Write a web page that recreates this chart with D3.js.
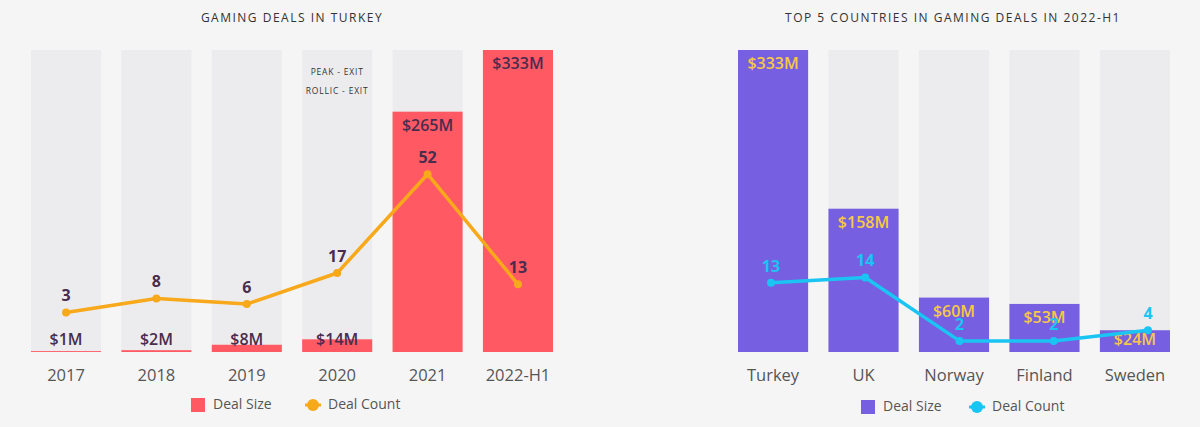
<!DOCTYPE html>
<html>
<head>
<meta charset="utf-8">
<script src="https://cdn.jsdelivr.net/npm/d3@7"></script>
<style>
  html, body { margin: 0; padding: 0; background: #f5f5f5; }
  svg { display: block; font-family: "Open Sans", "Noto Sans", sans-serif; }
</style>
</head>
<body>
<svg id="chart" width="1200" height="427"></svg>
<script>
// left panel: Turkey by year
const years = ['2017', '2018', '2019', '2020', '2021', '2022-H1'];
const turkeySize = [1, 2, 8, 14, 265, 333];   // $M
const turkeyCount = [3, 8, 6, 17, 52, 13];
const turkeyNotes = ['PEAK - EXIT', 'ROLLIC - EXIT']; // sits on 2020

// right panel: top 5 countries 2022-H1
const countries = ['Turkey', 'UK', 'Norway', 'Finland', 'Sweden'];
const countrySize = [333, 158, 60, 53, 24];
const countryCount = [13, 14, 2, 2, 4];

const svg = d3.select('#chart');
const bgBar = '#ececee';
const yBase = 352, yTop = 50;

function panel(o) {
	const g = svg.append('g');
	const x = d3.scaleBand().domain(o.cats).range(o.xr).paddingInner(0.225).paddingOuter(0);
	const y = d3.scaleLinear().domain([0, 333]).range([yBase, yTop]);
	const yc = d3.scaleLinear().domain(o.cDomain).range([o.cBase, yTop]);
	const xl = o.lineRange
		? d3.scalePoint().domain(o.cats).range(o.lineRange)
		: (d => x(d) + x.bandwidth() / 2);
	const rows = o.cats.map((c, i) => ({cat: c, size: o.size[i], count: o.count[i]}));

	g.append('text')
		.attr('x', (o.titleX)).attr('y', 19)
		.attr('text-anchor', 'middle').attr('dominant-baseline', 'middle')
		.attr('font-size', 12).attr('letter-spacing', 1.5).attr('fill', '#333')
		.text(o.title);

	g.selectAll('.bg').data(rows).join('rect')
		.attr('x', d => x(d.cat)).attr('width', x.bandwidth())
		.attr('y', yTop).attr('height', yBase - 1 - yTop)
		.attr('fill', bgBar);

	g.selectAll('.bar').data(rows).join('rect')
		.attr('x', d => x(d.cat)).attr('width', x.bandwidth())
		.attr('y', d => y(d.size)).attr('height', d => yBase - y(d.size))
		.attr('fill', o.barColor);

	if (o.notes) {
		g.selectAll('.note').data(o.notes).join('text')
			.attr('x', x(o.noteAt) + x.bandwidth() / 2)
			.attr('y', (d, i) => 73 + i * 18.5)
			.attr('text-anchor', 'middle').attr('dominant-baseline', 'middle')
			.attr('font-size', 8.5).attr('letter-spacing', 0.8).attr('fill', '#333')
			.text(d => d);
	}

	g.selectAll('.vlab').data(rows).join('text')
		.attr('x', d => x(d.cat) + x.bandwidth() / 2)
		.attr('y', d => Math.min(y(d.size) + 15, yBase - 11))
		.attr('text-anchor', 'middle').attr('dominant-baseline', 'middle')
		.attr('font-size', 16).attr('font-weight', o.valueWeight).attr('fill', o.valueColor)
		.text(d => '$' + d.size + 'M');

	const line = d3.line().x(d => xl(d.cat)).y(d => yc(d.count));
	g.append('path').datum(rows)
		.attr('d', line).attr('fill', 'none')
		.attr('stroke', o.lineColor).attr('stroke-width', 3.5).attr('stroke-linejoin', 'round');
	g.selectAll('.pt').data(rows).join('circle')
		.attr('cx', d => xl(d.cat)).attr('cy', d => yc(d.count)).attr('r', 4)
		.attr('fill', o.lineColor);
	g.selectAll('.clab').data(rows).join('text')
		.attr('x', d => xl(d.cat)).attr('y', d => yc(d.count) - 15.5)
		.attr('text-anchor', 'middle').attr('dominant-baseline', 'middle')
		.attr('font-size', 16).attr('font-weight', 700).attr('fill', o.countColor)
		.text(d => d.count);

	const ax = g.append('g').attr('transform', `translate(0,${yBase})`)
		.call(d3.axisBottom(x).tickSize(0).tickPadding(17));
	ax.select('.domain').remove();
	ax.selectAll('text').attr('font-size', 16.5).attr('fill', '#555')
		.attr('font-family', '"Open Sans", sans-serif');

	// legend
	const lg = g.append('g').attr('transform', `translate(${o.legendX},${o.legendY})`);
	lg.append('rect').attr('x', 0).attr('y', -7).attr('width', 14).attr('height', 14).attr('fill', o.barColor);
	lg.append('text').attr('x', 22).attr('y', 0).attr('dominant-baseline', 'middle')
		.attr('font-size', 14).attr('fill', '#555').text('Deal Size');
	lg.append('line').attr('x1', o.legendGap - 8).attr('x2', o.legendGap + 8)
		.attr('stroke', o.lineColor).attr('stroke-width', 3);
	lg.append('circle').attr('cx', o.legendGap).attr('r', 6).attr('fill', o.lineColor);
	lg.append('text').attr('x', o.legendGap + 15).attr('y', 0).attr('dominant-baseline', 'middle')
		.attr('font-size', 14).attr('fill', '#555').text('Deal Count');
}

panel({
	title: 'GAMING DEALS IN TURKEY', titleX: 292,
	cats: years, size: turkeySize, count: turkeyCount,
	xr: [31, 553], cDomain: [0, 96], cBase: 321,
	barColor: '#ff5a63', lineColor: '#f7a81b',
	valueColor: '#4a2c4f', valueWeight: 600, countColor: '#4a2c4f',
	notes: turkeyNotes, noteAt: '2020',
	legendX: 191, legendY: 405, legendGap: 122
});

panel({
	title: 'TOP 5 COUNTRIES IN GAMING DEALS IN 2022-H1', titleX: 953,
	cats: countries, size: countrySize, count: countryCount,
	xr: [738, 1170], cDomain: [0, 57], cBase: 351.5,
	lineRange: [771, 1148],
	barColor: '#765fe0', lineColor: '#1ac5f3',
	valueColor: '#f7c946', valueWeight: 600, countColor: '#1ac5f3',
	legendX: 861, legendY: 407, legendGap: 116
});
</script>
</body>
</html>
